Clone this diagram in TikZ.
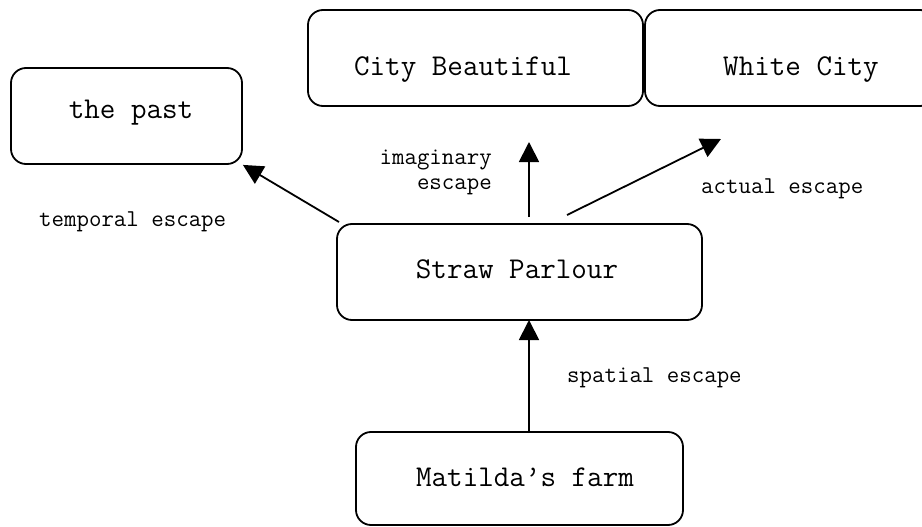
\documentclass[tikz,border=0pt]{standalone}
\usepackage{fontspec}
\usetikzlibrary{arrows.meta}
\tikzset{
  box/.style={draw, line width=1.8pt, rounded corners=15pt, inner sep=0pt},
  boxtext/.style={font=\ttfamily\fontsize{30.2}{34}\selectfont, inner sep=0pt, anchor=center},
  lab/.style={font=\ttfamily\fontsize{24.2}{25}\selectfont, inner sep=0pt},
  arr/.style={line width=1.8pt, -{Triangle[length=20pt,width=20pt]}}
}
\begin{document}
\begin{tikzpicture}[x=1pt,y=-1pt]
\useasboundingbox (0,0) rectangle (922,527);
% boxes
\node[box, minimum width=231pt, minimum height=96pt] (past) at (126.5,116) {};
\node[box, minimum width=335pt, minimum height=96pt] (cb) at (475.5,58) {};
\node[box, minimum width=290pt, minimum height=96pt] (wc) at (790,58) {};
\node[box, minimum width=365pt, minimum height=96pt] (sp) at (519.5,272) {};
\node[box, minimum width=327pt, minimum height=93pt] (mf) at (519.5,478.5) {};
% box texts
\node[boxtext] (pastt) at (131,113) {the past};
\node[boxtext] (cbt) at (463,70) {City Beautiful};
\node[boxtext] (wct) at (801,70) {White City};
\node[boxtext] (spt) at (517,269) {Straw Parlour};
\node[boxtext] (mft) at (525,477) {Matilda’s farm};
% connector end points
\coordinate (a1) at (339,222);
\coordinate (b1) at (529,217);
\coordinate (b2) at (529,142);
\coordinate (c1) at (567,215);
\coordinate (c2) at (721,139);
\coordinate (d1) at (529,433);
\coordinate (d2) at (529,320);
% connectors
\draw[arr] (a1) -- (past.south east);
\draw[arr] (b1) -- (b2);
\draw[arr] (c1) -- (c2);
\draw[arr] (d1) -- (d2);
% labels
\node[lab, align=right, anchor=east] (limg) at (492,172) {imaginary\\escape};
\node[lab, anchor=west] (ltmp) at (39,222) {temporal escape};
\node[lab, anchor=west] (lact) at (701,189) {actual escape};
\node[lab, anchor=west] (lspa) at (567,378) {spatial escape};
\end{tikzpicture}
\end{document}
